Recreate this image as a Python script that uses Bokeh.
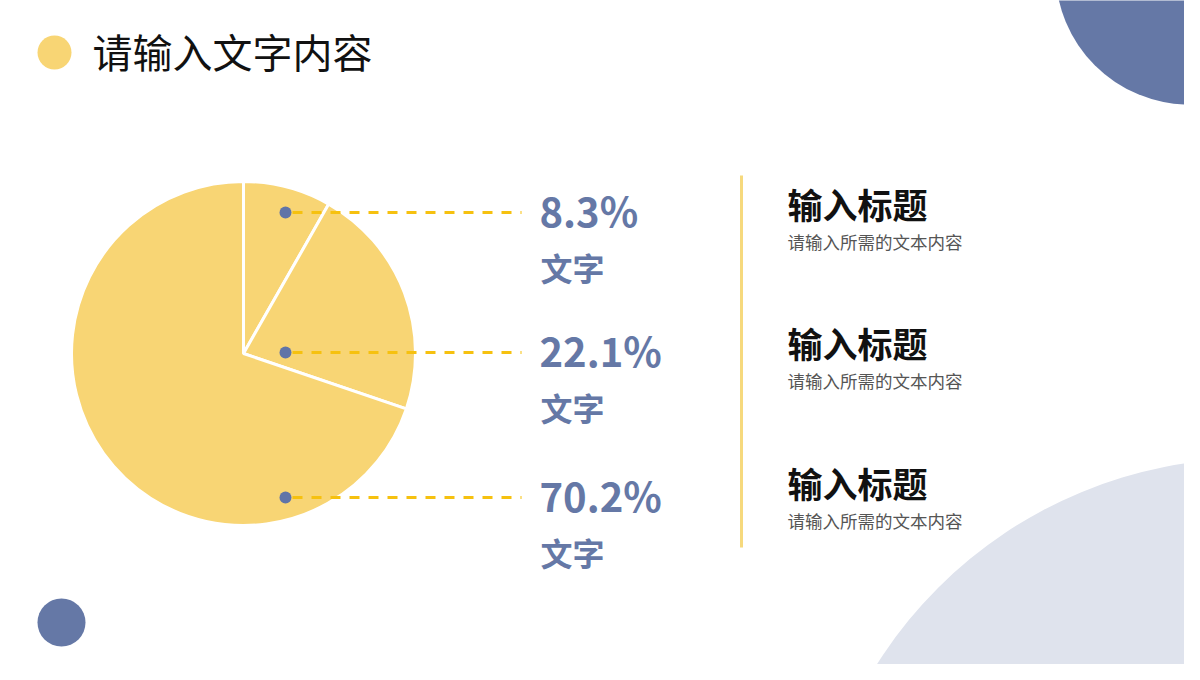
import math
from bokeh.plotting import figure
from bokeh.models import Range1d, ColumnDataSource
from bokeh.core.properties import value
from bokeh.embed import file_html
from bokeh.resources import INLINE

# ---- data ----
shares = [8.3, 22.1, 70.2]
share_labels = ["文字", "文字", "文字"]
titles = ["输入标题", "输入标题", "输入标题"]
subtitles = ["请输入所需的文本内容", "请输入所需的文本内容", "请输入所需的文本内容"]
page_title = "请输入文字内容"

# ---- styles ----
PIE = "#F8D574"
DASH = "#F6C10F"
BLUE = "#6578A6"
DOT = "#6074A8"
LIGHT = "#DFE3ED"
VLINE = "#F6D97D"
CJK = "Noto Sans CJK SC"

W, H = 1184, 664
p = figure(width=W, height=H, output_backend="svg", toolbar_location=None,
           x_range=Range1d(0, W), y_range=Range1d(680 - H, 680),
           min_border=0, background_fill_color="white", border_fill_color="white")
p.axis.visible = False
p.grid.visible = False
p.outline_line_color = None

def Y(y):
    return 680 - y

# decorative circles
p.circle(x=[1250], y=[Y(900)], radius=442, fill_color=LIGHT, line_color=None)
p.circle(x=[1189], y=[Y(-30)], radius=134, fill_color=BLUE, line_color=None)
p.circle(x=[61], y=[Y(622)], radius=24, fill_color=BLUE, line_color=None)
p.circle(x=[54], y=[Y(52)], radius=17, fill_color=PIE, line_color=None)

# title
p.text(x=[92], y=[Y(50)], text=[page_title], text_font=value(CJK),
       text_font_size=value("40px"), text_color="#111111",
       text_baseline="middle", text_align="left")

# pie
total = sum(shares)
cum = [0.0]
for s in shares:
    cum.append(cum[-1] + s / total)
starts = [math.pi / 2 - 2 * math.pi * c for c in cum[:-1]]
ends = [math.pi / 2 - 2 * math.pi * c for c in cum[1:]]
src = ColumnDataSource(dict(start=starts, end=ends))
cx, cy, r = 243, Y(353), 172
p.wedge(x=cx, y=cy, radius=r, start_angle="start", end_angle="end",
        direction="clock", fill_color=PIE, line_color="white", line_width=3,
        source=src)

# callouts
rows = [212, 352, 497]
for i, s in enumerate(shares):
    ry = rows[i]
    p.segment(x0=[292], y0=[Y(ry)], x1=[521], y1=[Y(ry)], line_color=DASH,
              line_width=3, line_dash="10 9")
    p.circle(x=[285], y=[Y(ry)], radius=6, fill_color=DOT, line_color=None)
    p.text(x=[539], y=[Y(ry - 3)], text=[f"{s}%"], text_font=value(CJK),
           text_font_style="bold", text_font_size=value("40px"),
           text_color=BLUE, text_baseline="middle", text_align="left")
    p.text(x=[540], y=[Y(ry + 54)], text=[share_labels[i]], text_font=value(CJK),
           text_font_style="bold", text_font_size=value("32px"),
           text_color=BLUE, text_baseline="middle", text_align="left")

# vertical divider
p.segment(x0=[741], y0=[Y(175)], x1=[741], y1=[Y(547)], line_color=VLINE,
          line_width=3)

# right column
trows = [203, 342, 482]
for i in range(len(titles)):
    ty = trows[i]
    p.text(x=[787], y=[Y(ty)], text=[titles[i]], text_font=value(CJK),
           text_font_style="bold", text_font_size=value("35px"),
           text_color="#111111", text_baseline="middle", text_align="left")
    p.text(x=[787], y=[Y(ty + 38)], text=[subtitles[i]], text_font=value(CJK),
           text_font_size=value("17.5px"), text_color="#555555",
           text_baseline="middle", text_align="left")

open("out.html", "w").write(file_html(p, INLINE))
